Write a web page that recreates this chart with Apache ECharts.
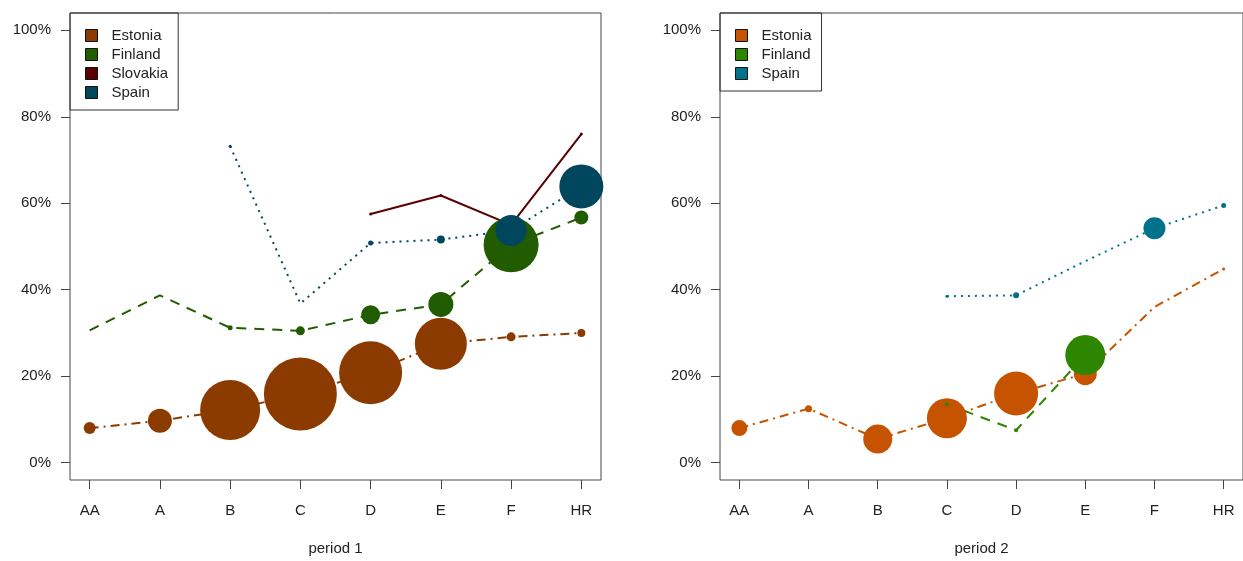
<!DOCTYPE html>
<html>
<head>
<meta charset="utf-8">
<script src="https://cdn.jsdelivr.net/npm/echarts@6/dist/echarts.min.js"></script>
<style>
  html, body { margin: 0; padding: 0; background: #fff; }
  #chart { width: 1243px; height: 561px; }
</style>
</head>
<body>
<div id="chart"></div>
<script>
// categories on x
const categories = ['AA', 'A', 'B', 'C', 'D', 'E', 'F', 'HR']
const yTicks = [0, 20, 40, 60, 80, 100]

// period 1 (share in %, marker diameter in px)
const estonia1 = [8.0, 9.7, 12.2, 15.9, 20.8, 27.5, 29.1, 30.0]
const estonia1Size = [12, 24, 60, 73, 63, 52, 9, 8]
const finland1 = [30.6, 38.7, 31.2, 30.5, 34.2, 36.6, 50.4, 56.7]
const finland1Size = [0, 0, 5, 9, 19, 25, 55, 14]
const slovakia1 = [null, null, null, null, 57.5, 61.8, 55.0, 76.0]
const slovakia1Size = [0, 0, 0, 0, 3, 3, 0, 3]
const spain1 = [null, null, 73.2, 36.8, 50.8, 51.6, 53.7, 63.9]
const spain1Size = [0, 0, 3, 0, 5, 8, 31, 44]

// period 2
const estonia2 = [8.0, 12.5, 5.5, 10.3, 16.0, 20.6, 36.0, 44.8]
const estonia2Size = [16, 7, 29, 40, 44, 23, 0, 3]
const finland2 = [null, null, null, 13.5, 7.5, 24.9, null, null]
const finland2Size = [0, 0, 0, 4, 4, 40, 0, 0]
const spain2 = [null, null, null, 38.5, 38.7, 46.6, 54.2, 59.5]
const spain2Size = [0, 0, 0, 3, 6, 0, 22, 5]

const font = 'Liberation Sans, Arial, sans-serif'
const txt = '#222'

// 线型
const dotdash = [9, 5, 2, 5]
const dashed = [10, 8]
const dotted = [2, 5]

function pts(vals, sizes) {
  let out = []
  for (let i = 0; i < vals.length; i++) {
    if (vals[i] !== null) out.push([i + 1, vals[i], sizes[i]])
  }
  return out
}

function line(name, idx, vals, sizes, color, type) {
  return {
    name: name,
    type: 'line',
    xAxisIndex: idx,
    yAxisIndex: idx,
    data: pts(vals, sizes),
    symbol: 'circle',
    symbolSize: v => v[2],
    showSymbol: true,
    itemStyle: { color: color },
    lineStyle: { color: color, width: 2, type: type },
    emphasis: { disabled: true }
  }
}

function xAxis(idx, title) {
  return {
    type: 'value',
    gridIndex: idx,
    min: 0.72,
    max: 8.28,
    splitLine: { show: false },
    axisLine: { show: false, onZero: false },
    axisTick: {
      show: true, inside: false, length: 9,
      customValues: [1, 2, 3, 4, 5, 6, 7, 8],
      lineStyle: { color: '#444' }
    },
    axisLabel: {
      customValues: [1, 2, 3, 4, 5, 6, 7, 8],
      formatter: v => categories[Math.round(v) - 1],
      color: txt, fontFamily: font, fontSize: 15, margin: 23
    },
    name: title,
    nameLocation: 'middle',
    nameGap: 61,
    nameMoveOverlap: false,
    nameTextStyle: { color: txt, fontFamily: font, fontSize: 15 }
  }
}

function yAxis(idx) {
  return {
    type: 'value',
    gridIndex: idx,
    min: -4,
    max: 104,
    splitLine: { show: false },
    axisLine: { show: false, onZero: false },
    axisTick: {
      show: true, inside: false, length: 9,
      customValues: yTicks,
      lineStyle: { color: '#444' }
    },
    axisLabel: {
      customValues: yTicks,
      formatter: v => Math.round(v) + '%',
      color: txt, fontFamily: font, fontSize: 15, margin: 19
    }
  }
}

function legend(left, items) {
  return {
    orient: 'vertical',
    left: left,
    top: 13,
    padding: [14, 10, 9, 15],
    borderColor: '#333',
    borderWidth: 1,
    borderRadius: 0,
    itemWidth: 12,
    itemHeight: 12,
    itemGap: 2,
    icon: 'rect',
    selectedMode: false,
    textStyle: { color: txt, fontFamily: font, fontSize: 15, lineHeight: 17, padding: [0, 0, 0, 9] },
    data: items.map(d => ({
      name: d[0],
      itemStyle: { color: d[1], borderColor: '#111', borderWidth: 1 }
    }))
  }
}

const c1 = { est: '#8b3a00', fin: '#225c00', svk: '#5a0000', esp: '#00465c' }
const c2 = { est: '#c65300', fin: '#2e8500', esp: '#00728b' }

const option = {
  animation: false,
  backgroundColor: '#fff',
  textStyle: { fontFamily: font },
  grid: [
    { left: 70, top: 13, width: 531, height: 471, show: true, borderColor: '#444', borderWidth: 1 },
    { left: 720, top: 13, width: 531, height: 471, show: true, borderColor: '#444', borderWidth: 1 }
  ],
  legend: [
    legend(70, [['Estonia', c1.est], ['Finland', c1.fin], ['Slovakia', c1.svk], ['Spain', c1.esp]]),
    legend(720, [['Estonia', c2.est], ['Finland', c2.fin], ['Spain', c2.esp]])
  ],
  xAxis: [xAxis(0, 'period 1'), xAxis(1, 'period 2')],
  yAxis: [yAxis(0), yAxis(1)],
  series: [
    line('Estonia', 0, estonia1, estonia1Size, c1.est, dotdash),
    line('Finland', 0, finland1, finland1Size, c1.fin, dashed),
    line('Slovakia', 0, slovakia1, slovakia1Size, c1.svk, 'solid'),
    line('Spain', 0, spain1, spain1Size, c1.esp, dotted),
    line('Estonia', 1, estonia2, estonia2Size, c2.est, dotdash),
    line('Finland', 1, finland2, finland2Size, c2.fin, dashed),
    line('Spain', 1, spain2, spain2Size, c2.esp, dotted)
  ]
}

let myChart = echarts.init(document.getElementById('chart'))
myChart.setOption(option)
</script>
</body>
</html>
